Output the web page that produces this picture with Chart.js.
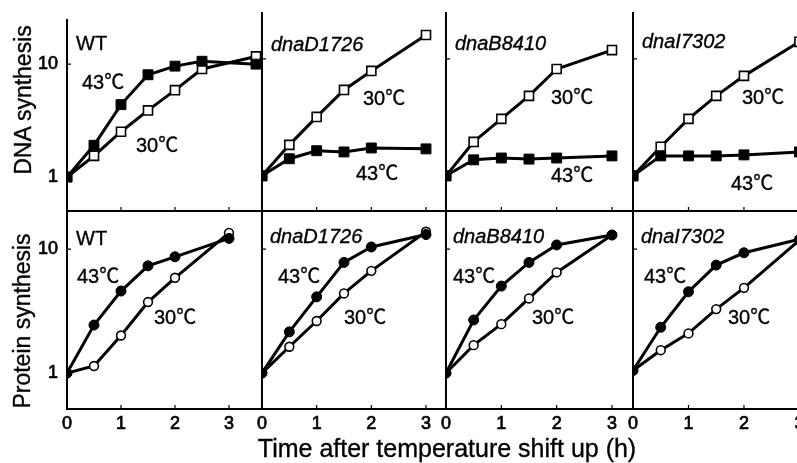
<!DOCTYPE html>
<html><head><meta charset="utf-8">
<script src="https://cdn.jsdelivr.net/npm/chart.js@4/dist/chart.umd.min.js"></script>
<style>
html,body{margin:0;padding:0;background:#fff;}
#wrap{position:relative;width:797px;height:463px;overflow:hidden;background:#fff;}
canvas{position:absolute;left:0;top:0;}
.t{position:absolute;white-space:nowrap;font-family:"Liberation Sans",Arial,"Noto Sans CJK JP",sans-serif;color:#000;-webkit-text-stroke:0.35px #000;}
.i{font-style:italic;}
</style></head><body><div id="wrap"></div>
<script>
// ---------------- data ----------------
const panelNames = ['WT', 'dnaD1726', 'dnaB8410', 'dnaI7302'];
const tempLabels = ['43℃', '30℃'];
const rowTitles = ['DNA synthesis', 'Protein synthesis'];
const xTitle = 'Time after temperature shift up (h)';
const xTickValues = [0, 1, 2, 3];
const yTickValues = [1, 10];
const timesWtDna = [0, 0.5, 1, 1.5, 2, 2.5, 3.5];
const times = [0, 0.5, 1, 1.5, 2, 3];
// DNA synthesis (relative)
const dnaWT43 = [1, 1.91, 4.38, 8.05, 9.6, 10.6, 10.0];
const dnaWT30 = [1, 1.54, 2.52, 3.89, 5.88, 9.06, 11.7];
const dnaD43 = [1, 1.40, 1.64, 1.60, 1.73, 1.70];
const dnaD30 = [1, 1.84, 3.19, 5.43, 7.89, 16.0];
const dnaB43 = [1, 1.37, 1.42, 1.39, 1.42, 1.48];
const dnaB30 = [1, 1.95, 3.07, 4.83, 8.2, 11.9];
const dnaI43 = [1, 1.48, 1.48, 1.48, 1.51, 1.60];
const dnaI30 = [1, 1.77, 3.07, 4.83, 7.16, 14.0];
// Protein synthesis (relative)
const protWT43 = [1, 2.44, 4.59, 7.33, 8.67, 12.2];
const protWT30 = [1, 1.14, 2.01, 3.74, 5.87, 13.5];
const protD43 = [1, 2.15, 4.12, 7.81, 10.4, 13.1];
const protD30 = [1, 1.63, 2.63, 4.39, 6.68, 13.8];
const protB43 = [1, 2.68, 5.03, 7.81, 10.8, 13.0];
const protB30 = [1, 1.68, 2.48, 4.0, 6.49, 13.0];
const protI43 = [1.05, 2.34, 4.53, 7.43, 9.34, 12.0];
const protI30 = [1.05, 1.53, 2.09, 3.28, 4.87, 11.8];

// ---------------- layout ----------------
const CW = 830, CH = 463;
const YW = 60, XH = 40;
const cols = [
  {l: 67, r: 262, max: 3.611},
  {l: 262, r: 446, max: 3.366},
  {l: 446, r: 633, max: 3.38},
  {l: 633, r: 805, max: 3.1}
];
const rows = [
  {t: 13, b: 211, min: 0.5, max: 24.7, style: 'rect'},
  {t: 211, b: 409, min: 0.513, max: 20.3, style: 'circle'}
];
const panels = [
  {row: 0, col: 0, x: timesWtDna, a: dnaWT43, b: dnaWT30},
  {row: 0, col: 1, x: times, a: dnaD43, b: dnaD30},
  {row: 0, col: 2, x: times, a: dnaB43, b: dnaB30},
  {row: 0, col: 3, x: times, a: dnaI43, b: dnaI30},
  {row: 1, col: 0, x: times, a: protWT43, b: protWT30},
  {row: 1, col: 1, x: times, a: protD43, b: protD30},
  {row: 1, col: 2, x: times, a: protB43, b: protB30},
  {row: 1, col: 3, x: times, a: protI43, b: protI30}
];

const FONT = '"Liberation Sans", Arial, sans-serif';
const wrap = document.getElementById('wrap');

const inwardTicks = {
  id: 'inwardTicks',
  beforeDatasetsDraw(chart) {
    const {ctx, chartArea: a, scales: {x, y}} = chart;
    ctx.save();
    ctx.strokeStyle = '#000';
    ctx.lineWidth = 1.2;
    ctx.beginPath();
    x.ticks.forEach(t => {
      if (t.value === 0) return;
      const px = x.getPixelForValue(t.value);
      ctx.moveTo(px, a.bottom); ctx.lineTo(px, a.bottom - 4);
    });
    y.ticks.forEach(t => {
      const py = y.getPixelForValue(t.value);
      ctx.moveTo(a.left, py); ctx.lineTo(a.left + 4, py);
    });
    ctx.stroke();
    ctx.restore();
  }
};

function series(xs, ys, filled, style) {
  const circle = style === 'circle';
  return {
    data: xs.map((x, i) => ({x: x, y: ys[i]})),
    borderColor: '#000',
    borderWidth: 3,
    pointStyle: style,
    pointRadius: circle ? (filled ? 5 : 4.4) : (filled ? 7 : 6.4),
    pointBackgroundColor: filled ? '#000' : '#fff',
    pointBorderColor: '#000',
    pointBorderWidth: filled ? 1 : 1.6,
    tension: 0,
    fill: false
  };
}

panels.forEach(p => {
  const c = cols[p.col], r = rows[p.row];
  const cv = document.createElement('canvas');
  cv.width = CW; cv.height = CH;
  cv.style.width = CW + 'px'; cv.style.height = CH + 'px';
  wrap.appendChild(cv);
  new Chart(cv, {
    type: 'line',
    data: {datasets: [series(p.x, p.a, true, r.style), series(p.x, p.b, false, r.style)]},
    options: {
      responsive: false, animation: false, devicePixelRatio: 1, events: [],
      layout: {padding: {left: c.l - YW, right: CW - c.r, top: r.t, bottom: CH - r.b - XH}},
      plugins: {legend: {display: false}, tooltip: {enabled: false}},
      scales: {
        x: {
          type: 'linear', min: 0, max: c.max,
          afterBuildTicks: s => { s.ticks = xTickValues.map(v => ({value: v})); },
          afterFit: s => { s.height = XH; },
          grid: {display: false, drawTicks: false},
          border: {display: true, color: '#000', width: 2},
          ticks: {display: p.row === 1, padding: 4, color: '#000', autoSkip: false, maxRotation: 0,
                  textStrokeColor: '#000', textStrokeWidth: 0.7,
                  font: {family: FONT, size: 18}, callback: v => String(v)}
        },
        y: {
          type: 'logarithmic', min: r.min, max: r.max,
          afterBuildTicks: s => { s.ticks = yTickValues.map(v => ({value: v})); },
          afterFit: s => { s.width = YW; },
          grid: {display: false, drawTicks: false},
          border: {display: true, color: '#000', width: 2},
          ticks: {display: p.col === 0, padding: 9, color: '#000',
                  textStrokeColor: '#000', textStrokeWidth: 0.7,
                  font: {family: FONT, size: 18}, callback: v => String(v)}
        }
      }
    },
    plugins: [inwardTicks]
  });
});

// ---------------- text ----------------
function addText(txt, left, baseline, size, italic) {
  const d = document.createElement('div');
  d.className = 't' + (italic ? ' i' : '');
  d.textContent = txt;
  d.style.left = left + 'px';
  d.style.fontSize = size + 'px';
  d.style.lineHeight = size + 'px';
  d.style.top = (baseline - size * 0.85) + 'px';
  wrap.appendChild(d);
}
// [name x, name baseline, 43 x, 43 baseline, 30 x, 30 baseline]
const labelPos = [
  [76, 50, 82, 89, 136, 152],
  [271, 51, 356, 180, 363, 105],
  [455, 50, 551, 182, 551, 104],
  [642, 48, 731, 190, 742, 104],
  [76, 245, 77, 283, 154, 324],
  [270, 243, 278, 283, 344, 324],
  [453, 243, 453, 283, 532, 324],
  [641, 243, 644, 283, 728, 324]
];
labelPos.forEach((lp, i) => {
  const col = i % 4;
  addText(panelNames[col], lp[0], lp[1], 20, col > 0);
  addText(tempLabels[0], lp[2], lp[3], 20, false);
  addText(tempLabels[1], lp[4], lp[5], 20, false);
});
function addRotated(txt, cx, cy, size) {
  const d = document.createElement('div');
  d.className = 't';
  d.textContent = txt;
  d.style.fontSize = size + 'px';
  d.style.lineHeight = size + 'px';
  d.style.left = cx + 'px';
  d.style.top = cy + 'px';
  d.style.transform = 'translate(-50%,-50%) rotate(-90deg)';
  wrap.appendChild(d);
}
addRotated(rowTitles[0], 23, 100, 23);
addRotated(rowTitles[1], 22, 321, 23);
const tt = document.createElement('div');
tt.className = 't';
tt.textContent = xTitle;
tt.style.fontSize = '25px';
tt.style.lineHeight = '25px';
tt.style.left = '447px';
tt.style.top = (457 - 25 * 0.85) + 'px';
tt.style.transform = 'translateX(-50%)';
wrap.appendChild(tt);
</script>
</body></html>
